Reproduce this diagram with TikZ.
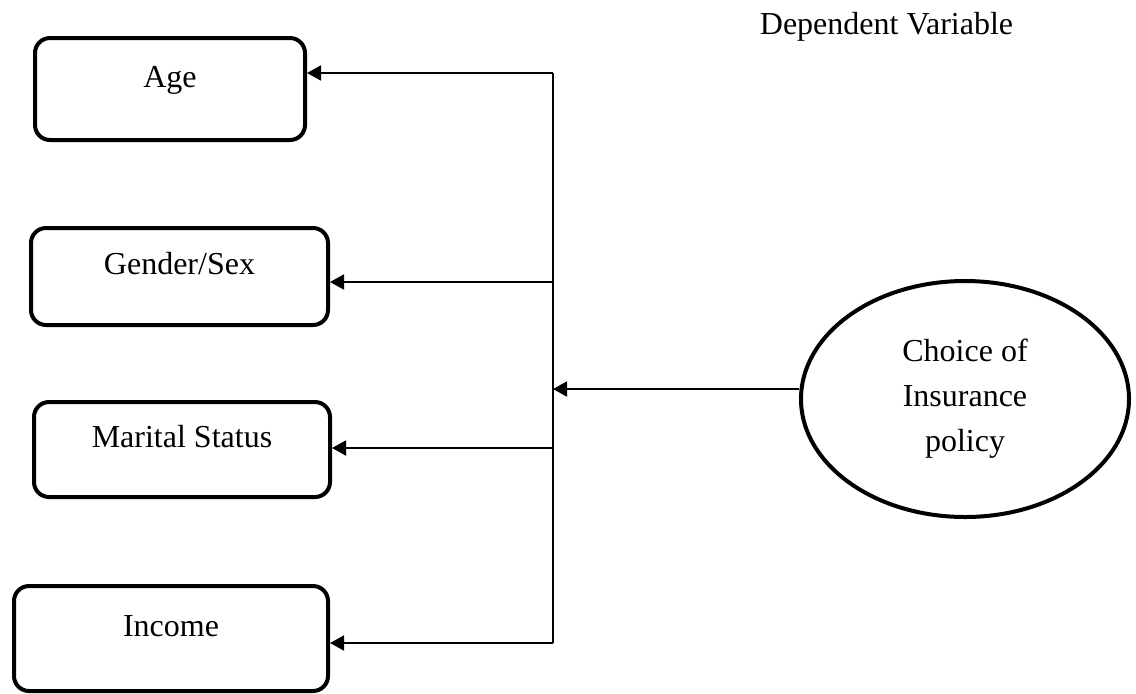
\documentclass[tikz,border=0pt]{standalone}
\usepackage{fontspec}
\setmainfont{Liberation Serif}
\usetikzlibrary{shapes.geometric,arrows.meta}

\begin{document}
\begin{tikzpicture}[x=0.5pt,y=-0.5pt]
         \tikzset{every node/.style={font=\fontsize{16}{22.5}\selectfont}}
         \tikzset{factor/.style={draw,line width=2pt,rounded corners=7.5pt,
            text height=11pt,text depth=13pt,inner sep=0pt}}
         \tikzset{link/.style={line width=0.9pt,-{Triangle[length=7pt,width=7.5pt]}}}
         \useasboundingbox (0,0) rectangle (1136,693);
         % independent variables
         \node[factor,minimum width=135pt,minimum height=51pt] (age) at (170,89) {Age};
         \node[factor,minimum width=148.5pt,minimum height=48.5pt] (gender) at (179.5,276.5) {Gender/Sex};
         \node[factor,minimum width=148pt,minimum height=47.5pt] (marital) at (182,449.5) {Marital Status};
         \node[factor,minimum width=157pt,minimum height=52.5pt] (income) at (171,638.5) {Income};
         % dependent variable
         \node (dep) at (886.5,27) {Dependent Variable};
         \node[draw,ellipse,line width=2pt,inner sep=0pt,align=center,
            minimum width=164pt,minimum height=118pt] (choice) at (965,399)
            {Choice of\\Insurance\\policy};
         % bus
         \coordinate (top) at (553,73);
         \coordinate (bot) at (553,643);
         \coordinate (jg) at (553,282);
         \coordinate (jm) at (553,448);
         \coordinate (jin) at (553,389);
         \draw[line width=0.9pt] (top) -- (bot);
         \draw[link] (top) -- (top -| age.east);
         \draw[link] (jg) -- (jg -| gender.east);
         \draw[link] (jm) -- (jm -| marital.east);
         \draw[link] (bot) -- (bot -| income.east);
         \draw[link] (choice.west |- jin) -- (jin);
      \end{tikzpicture}
\end{document}
